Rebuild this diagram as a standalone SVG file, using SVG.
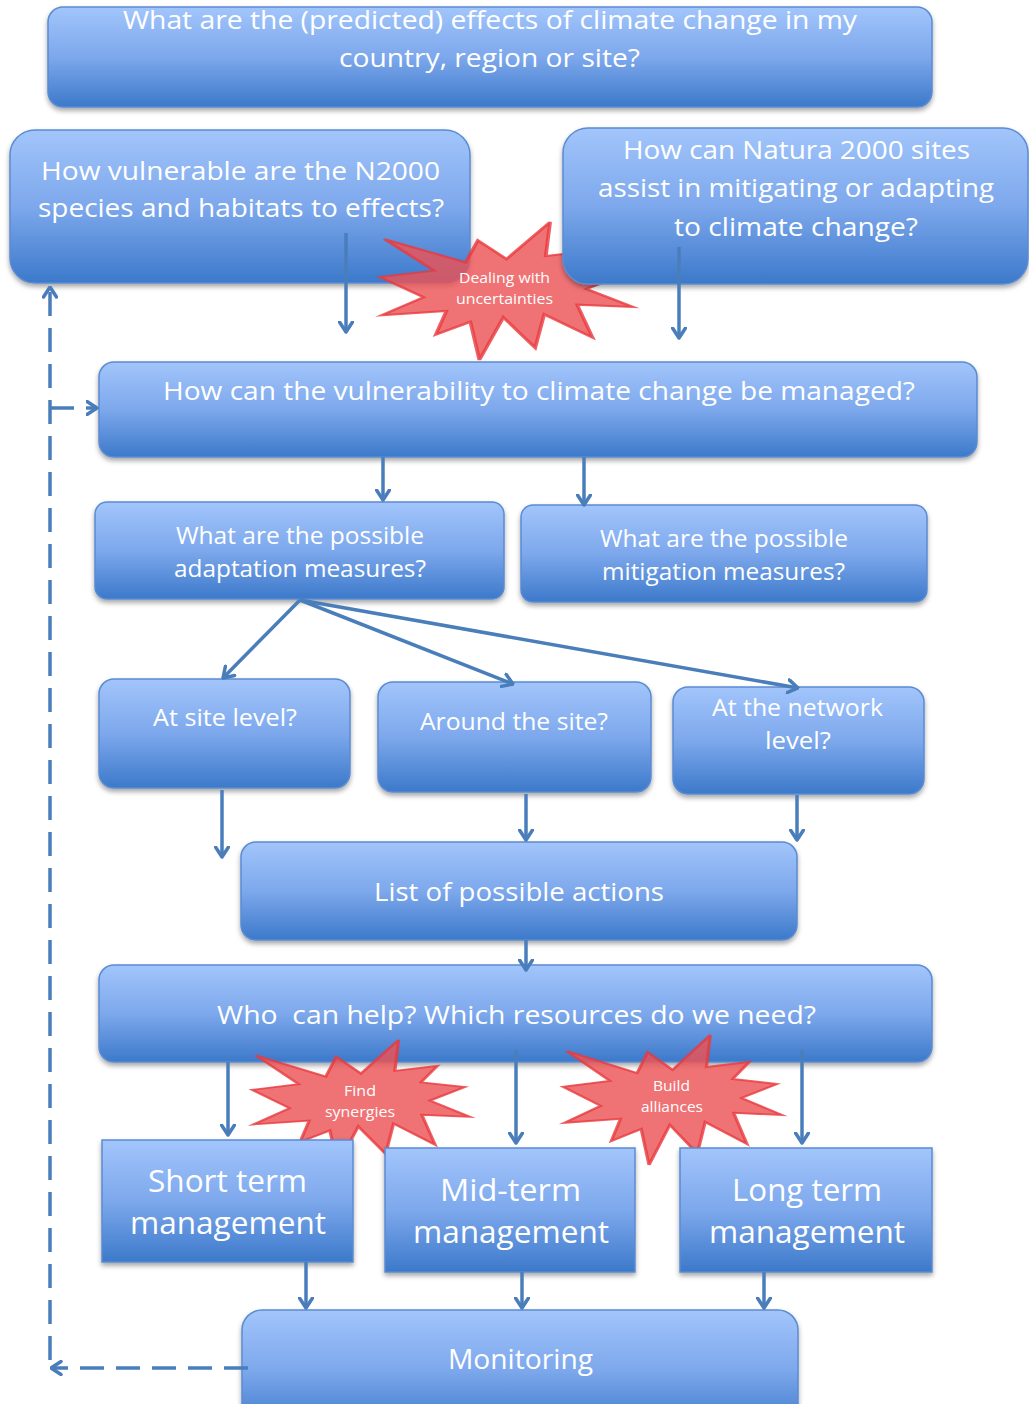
<svg xmlns="http://www.w3.org/2000/svg" xmlns:xlink="http://www.w3.org/1999/xlink" width="1029" height="1404" viewBox="0 0 1029 1404">
<defs>
<linearGradient id="g" x1="0" y1="0" x2="0" y2="1">
<stop offset="0" stop-color="#A2C5FB"/>
<stop offset="0.5" stop-color="#7DA8EC"/>
<stop offset="1" stop-color="#3C79CA"/>
</linearGradient>
<filter id="sh" x="-5%" y="-10%" width="110%" height="130%">
<feDropShadow dx="0" dy="3" stdDeviation="2.5" flood-color="#000" flood-opacity="0.35"/>
</filter>
<path id="star" d="M50,26.85 L67.23,0 L65.53,24.65 L85.09,20.64 L77.51,33.86 L97.67,37.67 L81.51,48.50 L100,61.53 L77.95,59.92 L84.00,83.77 L64.91,66.93 L61.33,91.19 L48.76,69.14 L39.28,100 L35.72,72.35 L22.05,81.56 L26.24,64.52 L0.625,67.53 L17.23,54.51 L0,39.88 L21.42,35.26 L1.71,12.35 L33.85,29.26 L38.67,13.33 Z"/>
<marker id="ah" viewBox="0 0 13 16" refX="11.5" refY="8" markerWidth="13" markerHeight="16" markerUnits="userSpaceOnUse" orient="auto">
<path d="M1.5,1.5 L11.5,8 L1.5,14.5" fill="none" stroke="#4A7EBB" stroke-width="3.5" stroke-linecap="round" stroke-linejoin="round"/>
</marker>
</defs>
<style>
.box{fill:url(#g);stroke:#5B8BD2;stroke-width:1.5;filter:url(#sh)}
.t{font-family:"Open Sans","Liberation Sans",sans-serif;fill:#ffffff;text-anchor:middle;white-space:pre}
.s{fill:#EC5356;fill-opacity:0.82;stroke:#E8393D;stroke-width:1.5;stroke-opacity:0.8}
.st{font-family:"Open Sans","Liberation Sans",sans-serif;fill:#ffffff;text-anchor:middle;font-size:15px}
.c{fill:none;stroke:#4A7EBB;stroke-width:3.5;marker-end:url(#ah)}
.d{fill:none;stroke:#4A7EBB;stroke-width:3.5;stroke-dasharray:24 12}
</style>

<g id="n1">
<rect class="box" x="48" y="7" width="884" height="100" rx="15"/>
<text class="t" font-size="25" x="490" y="29" textLength="734" lengthAdjust="spacingAndGlyphs">What are the (predicted) effects of climate change in my</text>
<text class="t" font-size="25" x="489.5" y="67" textLength="301" lengthAdjust="spacingAndGlyphs">country, region or site?</text>
</g>

<g id="n2">
<rect class="box" x="10" y="130" width="460" height="153" rx="25"/>
<text class="t" font-size="26" x="240.5" y="180" textLength="399" lengthAdjust="spacingAndGlyphs">How vulnerable are the N2000</text>
<text class="t" font-size="26" x="241" y="217" textLength="406" lengthAdjust="spacingAndGlyphs">species and habitats to effects?</text>
</g>

<g id="star1">
<use xlink:href="#star" class="s" transform="translate(380,222) scale(2.53,1.38)" vector-effect="non-scaling-stroke"/>
<text class="st" x="504.5" y="283" textLength="91" lengthAdjust="spacingAndGlyphs">Dealing with</text>
<text class="st" x="504.5" y="304" textLength="97" lengthAdjust="spacingAndGlyphs">uncertainties</text>
</g>

<g id="n3">
<rect class="box" x="563" y="128" width="465" height="156" rx="25"/>
<text class="t" font-size="26" x="796.5" y="159" textLength="347" lengthAdjust="spacingAndGlyphs">How can Natura 2000 sites</text>
<text class="t" font-size="26" x="796" y="197" textLength="396" lengthAdjust="spacingAndGlyphs">assist in mitigating or adapting</text>
<text class="t" font-size="26" x="796" y="236" textLength="244" lengthAdjust="spacingAndGlyphs">to climate change?</text>
</g>

<g id="n4">
<rect class="box" x="99" y="362" width="878" height="95" rx="15"/>
<text class="t" font-size="26" x="539" y="400" textLength="752" lengthAdjust="spacingAndGlyphs">How can the vulnerability to climate change be managed?</text>
</g>

<g id="n5">
<rect class="box" x="95" y="502" width="409" height="97" rx="12"/>
<text class="t" font-size="23" x="300" y="544" textLength="248" lengthAdjust="spacingAndGlyphs">What are the possible</text>
<text class="t" font-size="23" x="300" y="577" textLength="252" lengthAdjust="spacingAndGlyphs">adaptation measures?</text>
</g>

<g id="n6">
<rect class="box" x="521" y="505" width="406" height="97" rx="12"/>
<text class="t" font-size="23" x="724" y="547" textLength="248" lengthAdjust="spacingAndGlyphs">What are the possible</text>
<text class="t" font-size="23" x="723.5" y="580" textLength="243" lengthAdjust="spacingAndGlyphs">mitigation measures?</text>
</g>

<g id="n7">
<rect class="box" x="99" y="679" width="251" height="109" rx="15"/>
<text class="t" font-size="23" x="225" y="726" textLength="144" lengthAdjust="spacingAndGlyphs">At site level?</text>
</g>

<g id="n8">
<rect class="box" x="378" y="682" width="273" height="110" rx="15"/>
<text class="t" font-size="23" x="514" y="730" textLength="188" lengthAdjust="spacingAndGlyphs">Around the site?</text>
</g>

<g id="n9">
<rect class="box" x="673" y="687" width="251" height="107" rx="15"/>
<text class="t" font-size="23" x="797.5" y="716" textLength="171" lengthAdjust="spacingAndGlyphs">At the network</text>
<text class="t" font-size="23" x="798" y="749" textLength="66" lengthAdjust="spacingAndGlyphs">level?</text>
</g>

<g id="n10">
<rect class="box" x="241" y="842" width="556" height="98" rx="15"/>
<text class="t" font-size="26" x="519" y="901" textLength="290" lengthAdjust="spacingAndGlyphs">List of possible actions</text>
</g>

<g id="n11">
<rect class="box" x="99" y="965" width="833" height="97" rx="15"/>
<text class="t" font-size="26" x="516.5" y="1024" textLength="599" lengthAdjust="spacingAndGlyphs">Who  can help? Which resources do we need?</text>
</g>

<g id="star2">
<use xlink:href="#star" class="s" transform="translate(252,1040) scale(2.18,1.25)" vector-effect="non-scaling-stroke"/>
<text class="st" x="360" y="1096" textLength="32" lengthAdjust="spacingAndGlyphs">Find</text>
<text class="st" x="360" y="1117" textLength="70" lengthAdjust="spacingAndGlyphs">synergies</text>
</g>

<g id="star3">
<use xlink:href="#star" class="s" transform="translate(563,1035) scale(2.19,1.30)" vector-effect="non-scaling-stroke"/>
<text class="st" x="671.5" y="1091" textLength="37" lengthAdjust="spacingAndGlyphs">Build</text>
<text class="st" x="672" y="1112" textLength="62" lengthAdjust="spacingAndGlyphs">alliances</text>
</g>

<g id="n12">
<rect class="box" x="102" y="1140" width="251" height="122"/>
<text class="t" font-size="31" x="227.5" y="1192" textLength="159" lengthAdjust="spacingAndGlyphs">Short term</text>
<text class="t" font-size="31" x="228" y="1234" textLength="196" lengthAdjust="spacingAndGlyphs">management</text>
</g>

<g id="n13">
<rect class="box" x="385" y="1148" width="250" height="124"/>
<text class="t" font-size="31" x="510.5" y="1201" textLength="141" lengthAdjust="spacingAndGlyphs">Mid-term</text>
<text class="t" font-size="31" x="511" y="1243" textLength="196" lengthAdjust="spacingAndGlyphs">management</text>
</g>

<g id="n14">
<rect class="box" x="680" y="1148" width="252" height="124"/>
<text class="t" font-size="31" x="807" y="1201" textLength="150" lengthAdjust="spacingAndGlyphs">Long term</text>
<text class="t" font-size="31" x="807" y="1243" textLength="196" lengthAdjust="spacingAndGlyphs">management</text>
</g>

<g id="n15">
<rect class="box" x="242" y="1310" width="556" height="120" rx="20"/>
<text class="t" font-size="27" x="520.5" y="1369" textLength="145" lengthAdjust="spacingAndGlyphs">Monitoring</text>
</g>

<g id="connectors">
<line class="c" x1="346" y1="233" x2="346" y2="332"/>
<line class="c" x1="679" y1="247" x2="679" y2="338"/>
<line class="c" x1="383" y1="457" x2="383" y2="500"/>
<line class="c" x1="584" y1="457" x2="584" y2="505"/>
<line class="c" x1="300" y1="600" x2="223" y2="678"/>
<line class="c" x1="300" y1="600" x2="513" y2="684"/>
<line class="c" x1="300" y1="600" x2="798" y2="688"/>
<line class="c" x1="222" y1="790" x2="222" y2="857"/>
<line class="c" x1="526" y1="794" x2="526" y2="840"/>
<line class="c" x1="797" y1="795" x2="797" y2="840"/>
<line class="c" x1="526" y1="940" x2="526" y2="970"/>
<line class="c" x1="228" y1="1062" x2="228" y2="1135"/>
<line class="c" x1="516" y1="1050" x2="516" y2="1143"/>
<line class="c" x1="802" y1="1050" x2="802" y2="1143"/>
<line class="c" x1="306" y1="1262" x2="306" y2="1308"/>
<line class="c" x1="522" y1="1272" x2="522" y2="1308"/>
<line class="c" x1="764" y1="1272" x2="764" y2="1308"/>
<path class="d" d="M248,1368 H51" marker-end="url(#ah)"/>
<path class="d" d="M50,1360 V287" marker-end="url(#ah)"/>
<path class="d" d="M50,408 H97" stroke-dasharray="none" marker-end="url(#ah)"/>
</g>
</svg>
